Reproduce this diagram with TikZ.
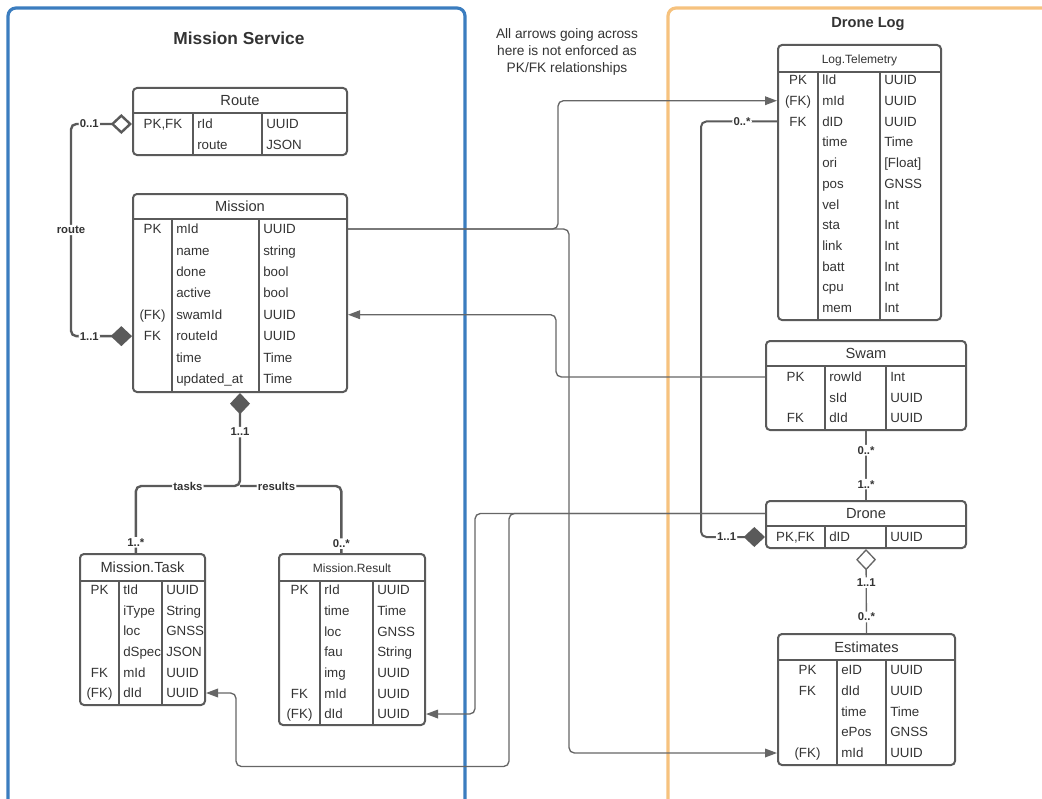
\documentclass[tikz,border=0pt]{standalone}
\usepackage{fontspec}
\setmainfont{Liberation Sans}
\usetikzlibrary{arrows.meta,positioning,fit}
\definecolor{msblue}{HTML}{3B7DBF}
\definecolor{logorange}{HTML}{F6C27E}
\definecolor{tblline}{HTML}{5A5A5A}
\definecolor{txtgray}{HTML}{333333}
\definecolor{linkgray}{HTML}{666666}
\newcommand{\smallttl}{\fontsize{9}{11}\selectfont}
% name, x1, y1, x2, y2, header line, divider 1, divider 2, title
\newcommand{\ertable}[9]{%
  \node[tbl,fit={(#2,#3)(#4,#5)}] (#1) {};
  \draw[tdiv] (#2,#6) -- (#4,#6);
  \draw[tdiv] (#7,#6) -- (#7,#5);
  \draw[tdiv] (#8,#6) -- (#8,#5);
  \node[ttl] (#1-t) at ({(#2+#4)/2},{(#3+#6)/2}) {#9};}
% name, key centre, field x, type x, first row, row step, rows
\newcommand{\errows}[7]{%
  \foreach \k/\f/\t [count=\i] in {#7}{%
    \pgfmathsetmacro{\ry}{#5+(\i-1)*#6}
    \node[cell] (#1-k\i) at (#2,\ry) {\k};
    \node[cell,anchor=west] (#1-\i) at (#3,\ry) {\f};
    \node[cell,anchor=west] (#1-t\i) at (#4,\ry) {\t};}}

\begin{document}
\begin{tikzpicture}[x=0.75pt,y=-0.75pt,
 font=\fontsize{10}{12}\selectfont,text=txtgray,
 tbl/.style={draw=tblline,line width=1.5pt,rounded corners=3pt,inner sep=0pt},
 tdiv/.style={draw=tblline,line width=1.5pt},
 ttl/.style={font=\fontsize{11}{13}\selectfont,inner sep=0pt,text height=7.8pt,text depth=0pt},
 cell/.style={inner sep=0pt,text height=7pt,text depth=0pt},
 frame/.style={line width=2.4pt,rounded corners=6pt},
 lab/.style={fill=white,inner sep=1pt,text=txtgray,font=\bfseries\fontsize{8.5}{10}\selectfont},
 rel/.style={draw=tblline,line width=1.8pt,rounded corners=4pt},
 link/.style={draw=linkgray,line width=1pt,rounded corners=4pt},
 fdia/.tip={Diamond[length=16pt,width=15pt]},
 odia/.tip={Diamond[open,length=16pt,width=15pt]},
 tri/.tip={Triangle[length=9pt,width=6.5pt]},
 arr/.style={link,-tri}]
\useasboundingbox (0,0) rectangle (1042,799);
\clip (0,0) rectangle (1042,799);

% service frames
\draw[frame,msblue] (8,8) rectangle (465,840);
\draw[frame,logorange] (668,8) rectangle (1100,840);
\node[font=\bfseries\fontsize{13}{15}\selectfont] (mstitle) at (239,38) {Mission Service};
\node[font=\bfseries\fontsize{11}{13}\selectfont] (logtitle) at (868,24) {Drone Log};
\node[align=center,font=\fontsize{10.3}{13}\selectfont] (note) at (567,52)
  {All arrows going across\\here is not enforced as\\PK/FK relationships};

% tables
\ertable{route}{133}{88}{347}{155}{113}{193}{262}{Route}
\errows{route}{163}{197}{266}{124}{20.5}{{PK,FK}/rId/UUID, /route/JSON}
\ertable{mission}{133}{194}{347}{392}{219}{172}{259}{Mission}
\errows{mission}{152.5}{176}{263}{229}{21.43}{PK/mId/UUID, /name/string, /done/bool, /active/bool, (FK)/swamId/UUID, FK/routeId/UUID, /time/Time, /updated\_at/Time}
\ertable{task}{80}{554}{205}{705}{581}{119}{162}{Mission.Task}
\errows{task}{99.5}{123}{166}{590}{20.6}{PK/tId/UUID, /iType/String, /loc/GNSS, /dSpec/JSON, FK/mId/UUID, (FK)/dId/UUID}
\ertable{result}{279}{554}{425}{725}{581}{320}{373}{\smallttl Mission.Result}
\errows{result}{299.5}{324}{377}{590}{20.67}{PK/rId/UUID, /time/Time, /loc/GNSS, /fau/String, /img/UUID, FK/mId/UUID, (FK)/dId/UUID}
\ertable{tele}{778}{45}{941}{320}{72}{818}{880}{\smallttl Log.Telemetry}
\errows{tele}{798}{822}{884}{80}{20.73}{PK/lId/UUID, (FK)/mId/UUID, FK/dID/UUID, /time/Time, /ori/{[Float]}, /pos/GNSS, /vel/Int, /sta/Int, /link/Int, /batt/Int, /cpu/Int, /mem/Int}
\ertable{swam}{766}{341}{966}{430}{366}{825}{886}{Swam}
\errows{swam}{795.5}{829}{890}{377}{20.5}{PK/rowId/Int, /sId/UUID, FK/dId/UUID}
\ertable{drone}{766}{501}{966}{548}{526}{825}{886}{Drone}
\errows{drone}{795.5}{829}{890}{537}{0}{{PK,FK}/dID/UUID}
\ertable{est}{778}{634}{955}{765}{660}{837}{886}{Estimates}
\errows{est}{807.5}{841}{890}{670}{20.75}{PK/eID/UUID, FK/dId/UUID, /time/Time, /ePos/GNSS, (FK)/mId/UUID}

% relationships
\draw[rel,odia-fdia] (route.west |- route-1) -- ++(-61,0) node[lab,pos=0.7]{0..1}
  |- (mission.west |- mission-6) node[lab,pos=0.25]{route} node[lab,pos=0.65]{1..1};
\draw[rel,fdia-] (mission.south) -- ++(0,93) coordinate (split) node[lab,pos=0.42]{1..1}
  -| ([xshift=-5pt]task.north) node[lab,pos=0.25]{tasks} node[lab,pos=0.92]{1..*};
\draw[rel] (split) -| ([xshift=-8pt]result.north) node[lab,pos=0.18]{results} node[lab,pos=0.93]{0..*};
\draw[rel,line width=1.5pt,fdia-] (drone.west |- drone-1) -- ++(-64,0) node[lab,pos=0.6]{1..1}
  |- (tele.west |- tele-3) node[lab,pos=0.77]{0..*};
\draw[link] (swam.south) -- (drone.north) node[lab,pos=0.28]{0..*} node[lab,pos=0.77]{1..*};
\draw[link,odia-] (drone.south) -- (est.north) node[lab,pos=0.4]{1..1} node[lab,pos=0.81]{0..*};

% links across services
\draw[arr] (mission.east |- mission-1) -- ++(210,0) |- (tele.west |- tele-2);
\draw[arr] (mission.east |- mission-1) -- ++(221,0) |- (est.west |- est-5);
\draw[arr] (swam.west |- swam-1) -- ++(-209,0) |- (mission.east |- mission-5);
\draw[arr] (drone.west |- drone-t) -- ++(-290,0) |- (result.east |- result-7);
\draw[arr] (drone.west |- drone-t) -- ++(-256,0) -- ++(0,253)
  -| ([xshift=22.5pt]task.east |- task-6) -- (task.east |- task-6);
\end{tikzpicture}
\end{document}
